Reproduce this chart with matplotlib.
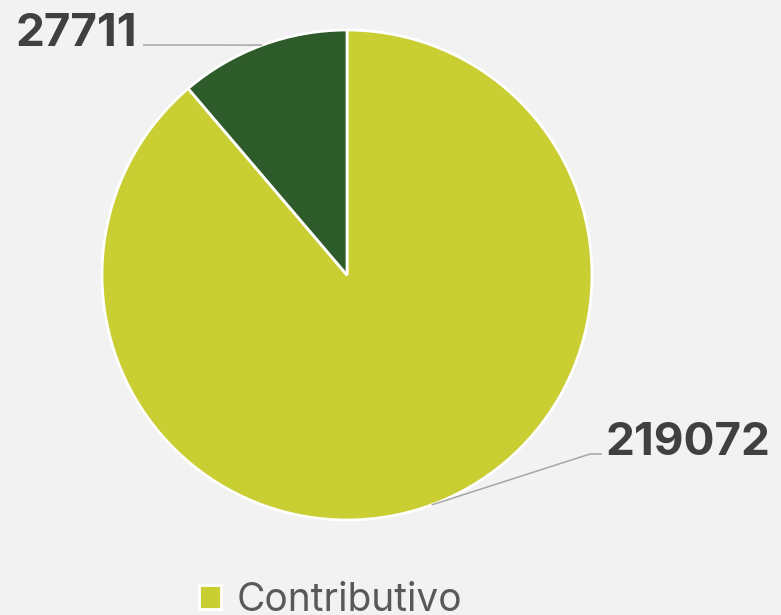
import matplotlib.pyplot as plt
import numpy as np

categories = ["Contributivo", "Subsidiado"]
values = [219072, 27711]
colors = ["#C9CE32", "#2E5B2A"]

plt.rcParams['font.family'] = ['Inter', 'DejaVu Sans']

W, H = 781, 615
cx, cy, R = 347, 275, 245   # pie centre and radius in pixels (from top-left)

def to_data(px, py):
    return (px - cx) / R, (cy - py) / R

fig = plt.figure(figsize=(W / 100, H / 100), dpi=100, facecolor="#F2F2F2")
ax = fig.add_axes([0, 0, 1, 1])
ax.set_facecolor("#F2F2F2")

wedges, _ = ax.pie(values, colors=colors, startangle=90, counterclock=False,
                   radius=1, wedgeprops=dict(edgecolor="white", linewidth=2))

x0, y0 = to_data(0, 0)
x1, y1 = to_data(W, H)
ax.set_xlim(x0, x1)
ax.set_ylim(y1, y0)
ax.set_aspect("equal")
ax.axis("off")

# data labels with leader lines
label_pos = {
    0: dict(elbow=(590, 454), end=(602, 454), text=(605, 455), ha="left"),
    1: dict(elbow=(143, 45), end=(143, 45), text=(137, 46), ha="right"),
}
for i, w in enumerate(wedges):
    mid = np.deg2rad((w.theta1 + w.theta2) / 2)
    sx, sy = np.cos(mid), np.sin(mid)
    p = label_pos[i]
    ex, ey = to_data(*p["elbow"])
    nx, ny = to_data(*p["end"])
    ax.plot([sx, ex, nx], [sy, ey, ny], color="#A6A6A6", lw=1.1,
            solid_capstyle="butt", zorder=1)
    tx, ty = to_data(*p["text"])
    ax.text(tx, ty, f"{values[i]}", ha=p["ha"], va="baseline",
            fontsize=33, fontweight="bold", color="#404040")

# only the first legend entry is visible in the reference (rest falls below the edge)
fig.legend(wedges[:1], categories[:1], loc="upper left", frameon=False,
           bbox_to_anchor=(199 / W, 1 - 582 / H), fontsize=28,
           labelcolor="#595959", handlelength=0.57, handleheight=0.57,
           handletextpad=0.4, borderpad=0, borderaxespad=0)

fig.savefig("out.png", dpi=100, facecolor=fig.get_facecolor())
